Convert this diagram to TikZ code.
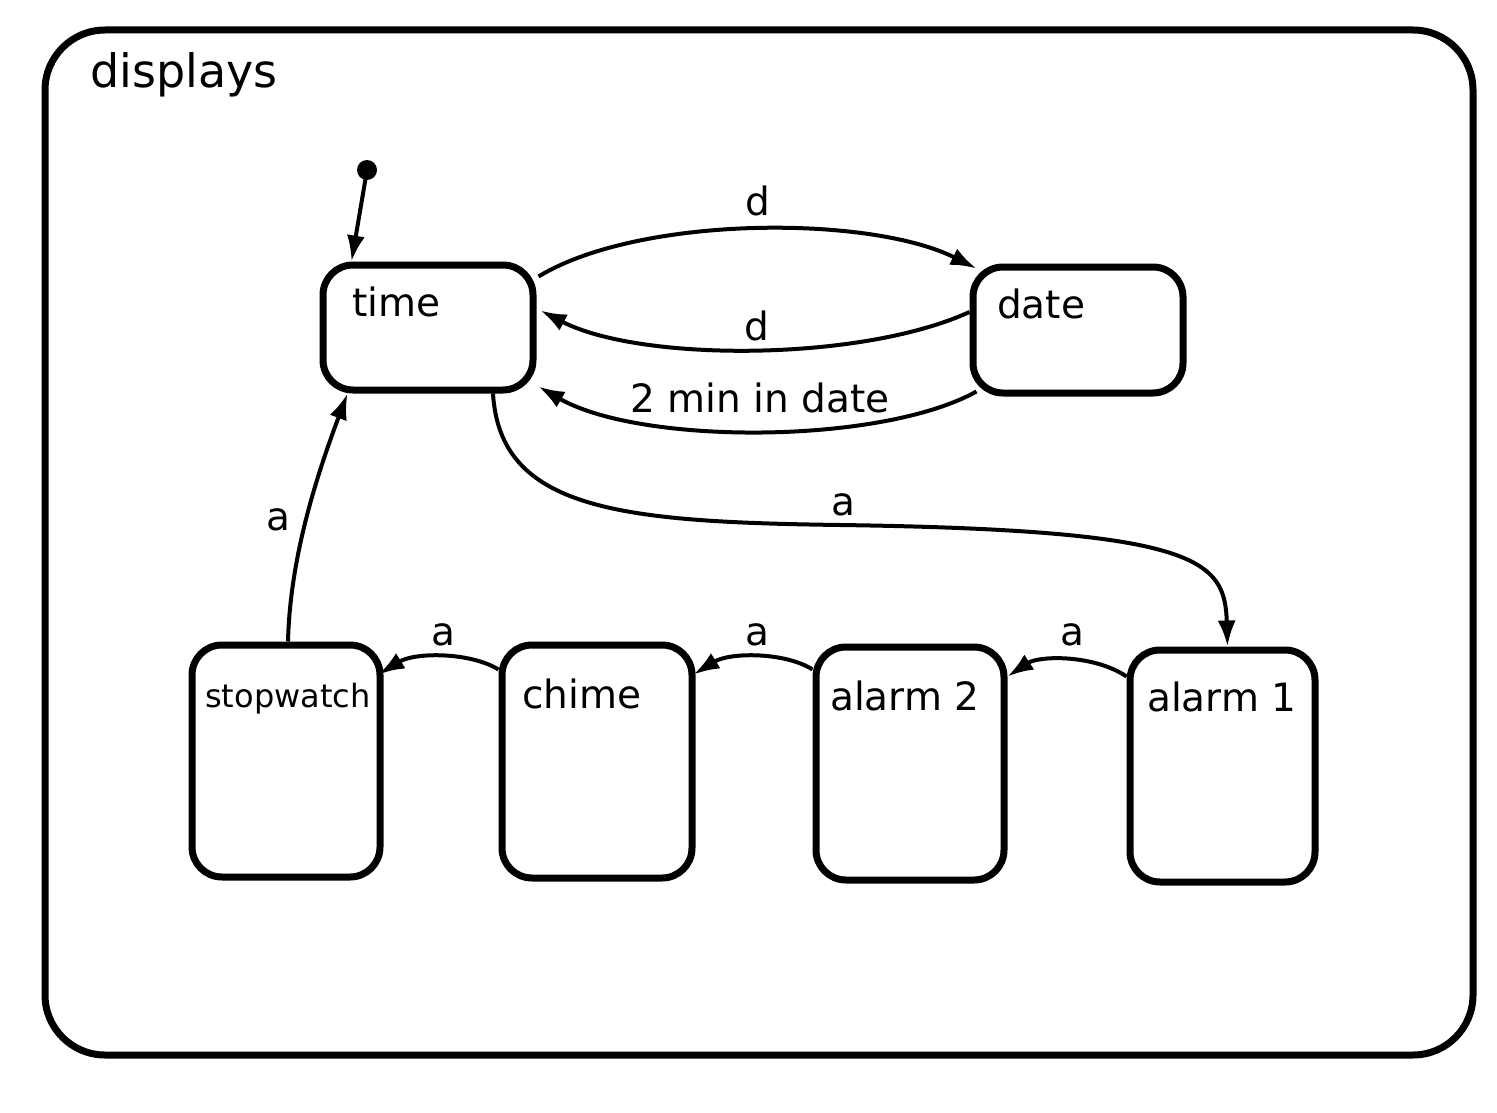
\documentclass[tikz,border=0pt]{standalone}
\usepackage{fontspec}
\setmainfont{DejaVu Sans}
\usetikzlibrary{arrows.meta,calc}
\begin{document}
\begin{tikzpicture}[x=1pt,y=-1pt,
  statebox/.style={draw,line width=7pt,rounded corners=30pt,inner sep=0pt},
  lbl/.style={inner sep=0pt,anchor=base west,font=\fontsize{39}{40}\selectfont},
  elbl/.style={inner sep=0pt,anchor=base,font=\fontsize{39}{40}\selectfont},
  trans/.style={line width=4pt,-{Latex[length=26pt,width=18pt]}}]
\useasboundingbox (0,0) rectangle (1497,1113);
% outer state
\node[draw,line width=7pt,rounded corners=60pt,minimum width=1428pt,minimum height=1025pt,inner sep=0pt] (displays) at (759,542.5) {};
\node[lbl,font=\fontsize{46}{48}\selectfont] (displayslbl) at (90,88) {displays};
% states
\node[statebox,minimum width=210pt,minimum height=125pt] (time) at (428,327.5) {};
\node[statebox,minimum width=210pt,minimum height=126pt] (date) at (1078,330) {};
\node[statebox,minimum width=188pt,minimum height=232pt] (stopwatch) at (286,761) {};
\node[statebox,minimum width=190pt,minimum height=233pt] (chime) at (597,761.5) {};
\node[statebox,minimum width=188pt,minimum height=233pt] (alarmtwo) at (910,763.5) {};
\node[statebox,minimum width=185pt,minimum height=232pt] (alarmone) at (1222.5,766) {};
\node[lbl] (timelbl) at (352,316) {time};
\node[lbl] (datelbl) at (997,318) {date};
\node[lbl,font=\fontsize{32}{34}\selectfont] (stopwatchlbl) at (205,707) {stopwatch};
\node[lbl] (chimelbl) at (522,708) {chime};
\node[lbl] (alarmtwolbl) at (830,710) {alarm 2};
\node[lbl] (alarmonelbl) at (1147,711) {alarm 1};
% default entry
\coordinate (init) at (367,170);
\fill (init) circle (10pt);
\draw[trans] (init) -- ($(time.north west)+(32,0)$);
% time <-> date
\draw[trans] ($(time.north east)+(2,15)$) .. controls (640,215) and (870,215) .. ($(date.north west)+(7,5)$);
\node[elbl] (d1) at (758,215) {d};
\draw[trans] ($(date.west)+(0,-18)$) .. controls (860,362) and (640,362) .. ($(time.east)+(4,-17)$);
\node[elbl] (d2) at (757,340) {d};
\draw[trans] ($(date.south west)+(7,-5)$) .. controls (880,445) and (640,445) .. ($(time.south east)+(2,-7)$);
\node[elbl] (twomin) at (760,412) {2 min in date};
% time -> alarm 1
\draw[trans] ($(time.south)+(65,0)$) .. controls (500,510) and (620,522) .. (840,525)
  .. controls (1200,530) and (1225,560) .. ($(alarmone.north)+(5,0)$);
\node[elbl] (a1) at (843,515) {a};
% a chain
\draw[trans] ($(alarmone.north west)+(0,30)$) .. controls (1095,655) and (1040,655) .. ($(alarmtwo.north east)+(0,33)$);
\node[elbl] (a2) at (1072,645) {a};
\draw[trans] ($(alarmtwo.north west)+(0,26)$) .. controls (785,652) and (730,652) .. ($(chime.north east)+(-2,33)$);
\node[elbl] (a3) at (757,645) {a};
\draw[trans] ($(chime.north west)+(0,28)$) .. controls (470,652) and (415,652) .. ($(stopwatch.north east)+(-5,33)$);
\node[elbl] (a4) at (443,645) {a};
% stopwatch -> time
\draw[trans] ($(stopwatch.north)+(2,0)$) .. controls (290,560) and (315,480) .. ($(time.south west)+(28,0)$);
\node[elbl] (a5) at (278,530) {a};
\end{tikzpicture}
\end{document}
